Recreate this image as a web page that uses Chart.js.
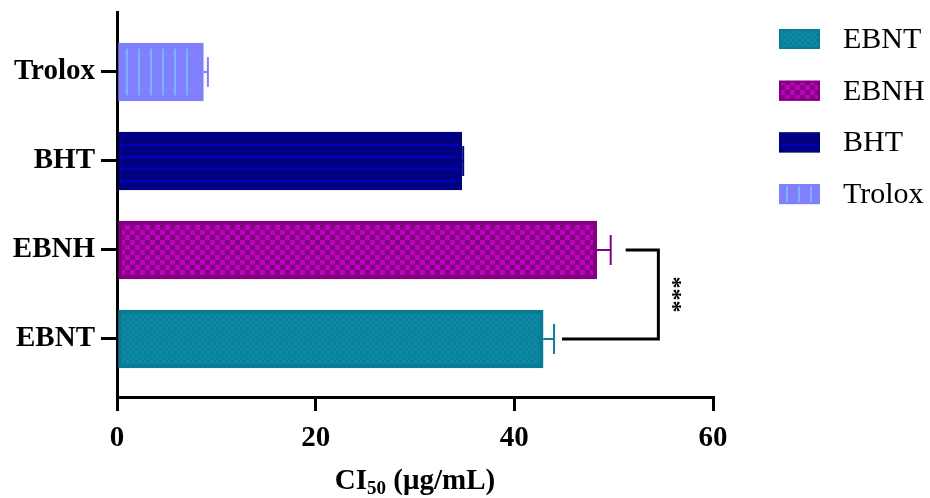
<!DOCTYPE html>
<html><head><meta charset="utf-8">
<script src="https://cdn.jsdelivr.net/npm/chart.js@4/dist/chart.umd.min.js"></script>
<style>html,body{margin:0;padding:0;background:#fff}#wrap{width:930px;height:498px;position:relative}</style>
</head><body><div id="wrap"><canvas id="c" width="930" height="498"></canvas></div>
<script>
// ---- data ----
const categories = ['EBNT', 'EBNH', 'BHT', 'Trolox'];
const positions = [0, 1, 2, 3];
const values = [42.9, 48.3, 34.7, 8.7];
const errors = [1.1, 1.4, 0.15, 0.45];
const xTicks = [0, 20, 40, 60];
const xTitleParts = ['CI', '50', ' (μg/mL)'];
const significance = '***';
const comparedPair = [0, 1];

// ---- styles ----
const FONT = '"Liberation Serif", "Times New Roman", serif';
const canvas = document.getElementById('c');
const ctx = canvas.getContext('2d');
function mk(w, h, draw) {
  const c = document.createElement('canvas'); c.width = w; c.height = h;
  draw(c.getContext('2d')); return ctx.createPattern(c, 'repeat');
}
const patterns = [
  mk(6, 6, g => { g.fillStyle = '#0b7f98'; g.fillRect(0,0,6,6); g.fillStyle = '#0a8ca8'; g.fillRect(0,0,3,3); g.fillRect(3,3,3,3); }),
  mk(10, 10, g => { g.fillStyle = '#800080'; g.fillRect(0,0,10,10); g.fillStyle = '#c000c0'; g.fillRect(0,0,5,5); g.fillRect(5,5,5,5); }),
  mk(12, 12, g => { g.fillStyle = '#000080'; g.fillRect(0,0,12,12); g.fillStyle = '#0000c0'; g.fillRect(0,0,12,2); }),
  mk(12, 12, g => { g.fillStyle = '#8080ff'; g.fillRect(0,0,12,12); g.fillStyle = '#80b0ff'; g.fillRect(6,0,2,12); })
];
const borderColors = ['#0a7b93', '#800080', '#000080', '#8080ff'];
const borderWidths = [4, 4, 2, 6];
const errColors = ['#0a7f98', '#800080', '#000080', '#8080ff'];

const datasets = categories.map((name, i) => ({
  label: name,
  data: [{ x: values[i], y: positions[i] }],
  backgroundColor: patterns[i],
  borderColor: borderColors[i],
  borderWidth: borderWidths[i],
  borderSkipped: false,
  barThickness: 58,
  grouped: false
}));

const extras = {
  id: 'extras',
  afterDatasetsDraw(chart) {
    const c = chart.ctx, xs = chart.scales.x, ys = chart.scales.y;
    c.save();
    // error bars
    values.forEach((v, i) => {
      const y = ys.getPixelForValue(positions[i]);
      const x0 = xs.getPixelForValue(v), x1 = xs.getPixelForValue(v + errors[i]);
      c.strokeStyle = errColors[i]; c.lineWidth = 2;
      c.beginPath(); c.moveTo(x0, y); c.lineTo(x1, y); c.stroke();
      c.beginPath(); c.moveTo(x1, y - 15); c.lineTo(x1, y + 15); c.stroke();
    });
    // significance bracket
    const [a, b] = comparedPair;
    const ya = ys.getPixelForValue(positions[a]), yb = ys.getPixelForValue(positions[b]);
    const xa = xs.getPixelForValue(values[a] + errors[a]) + 8;
    const xb = xs.getPixelForValue(values[b] + errors[b]) + 15;
    const xr = xs.getPixelForValue(Math.max(values[a] + errors[a], values[b] + errors[b]) + 4.8);
    c.strokeStyle = '#000'; c.lineWidth = 3; c.lineJoin = 'miter';
    c.beginPath(); c.moveTo(xb, yb); c.lineTo(xr, yb); c.lineTo(xr, ya); c.lineTo(xa, ya); c.stroke();
    c.translate(xr + 18, (ya + yb) / 2);
    c.rotate(Math.PI / 2);
    c.fillStyle = '#000'; c.font = 'bold 24px ' + FONT; c.textAlign = 'center'; c.textBaseline = 'middle';
    c.fillText(significance, 0, 4);
    c.restore();
  },
  afterDraw(chart) {
    const c = chart.ctx, area = chart.chartArea;
    c.save();
    // legend
    chart.data.datasets.forEach((ds, i) => {
      const cy = 39 + i * 51.7;
      c.fillStyle = ds.backgroundColor; c.fillRect(779, cy - 10, 41, 20);
      c.strokeStyle = ds.borderColor; c.lineWidth = 2; c.strokeRect(780, cy - 9, 39, 18);
      c.fillStyle = '#000'; c.font = '30px ' + FONT; c.textAlign = 'left'; c.textBaseline = 'middle';
      c.fillText(ds.label, 843, cy + 1);
    });
    // x title with subscript
    const big = 'bold 29px ' + FONT, small = 'bold 19px ' + FONT;
    c.font = big; const w0 = c.measureText(xTitleParts[0]).width, w2 = c.measureText(xTitleParts[2]).width;
    c.font = small; const w1 = c.measureText(xTitleParts[1]).width;
    let x = (area.left + area.right) / 2 - (w0 + w1 + w2) / 2;
    const base = 489;
    c.textAlign = 'left'; c.textBaseline = 'alphabetic'; c.fillStyle = '#000';
    c.font = big; c.fillText(xTitleParts[0], x, base); x += w0;
    c.font = small; c.fillText(xTitleParts[1], x, base + 5); x += w1;
    c.font = big; c.fillText(xTitleParts[2], x, base);
    c.restore();
  }
};

new Chart(ctx, {
  type: 'bar',
  data: { datasets },
  options: {
    indexAxis: 'y',
    responsive: false,
    animation: false,
    devicePixelRatio: 1,
    layout: { padding: { top: 12, right: 217, left: 0, bottom: 0 } },
    plugins: { legend: { display: false }, tooltip: { enabled: false } },
    scales: {
      x: {
        type: 'linear', min: 0, max: 60, offset: false,
        afterBuildTicks: s => { s.ticks = xTicks.map(v => ({ value: v })); },
        afterFit: s => { s.height = 101; s.paddingLeft = 0; s.paddingRight = 0; },
        ticks: { color: '#000', padding: 10, font: { family: FONT, size: 29, weight: 'bold' } },
        grid: { drawOnChartArea: false, drawTicks: true, tickLength: 14, color: '#000', lineWidth: 3, offset: false },
        border: { display: true, color: '#000', width: 3 }
      },
      y: {
        type: 'linear', min: -0.652, max: 3.674, offset: false,
        afterBuildTicks: s => { s.ticks = positions.map(v => ({ value: v })); },
        afterFit: s => { s.width = 117; s.paddingTop = 0; s.paddingBottom = 0; },
        ticks: { color: '#000', padding: 6, font: { family: FONT, size: 29, weight: 'bold' },
                 callback: v => categories[Math.round(v)] },
        grid: { drawOnChartArea: false, drawTicks: true, tickLength: 16, color: '#000', lineWidth: 3, offset: false },
        border: { display: true, color: '#000', width: 3 }
      }
    }
  },
  plugins: [extras]
});
</script>
</body></html>
